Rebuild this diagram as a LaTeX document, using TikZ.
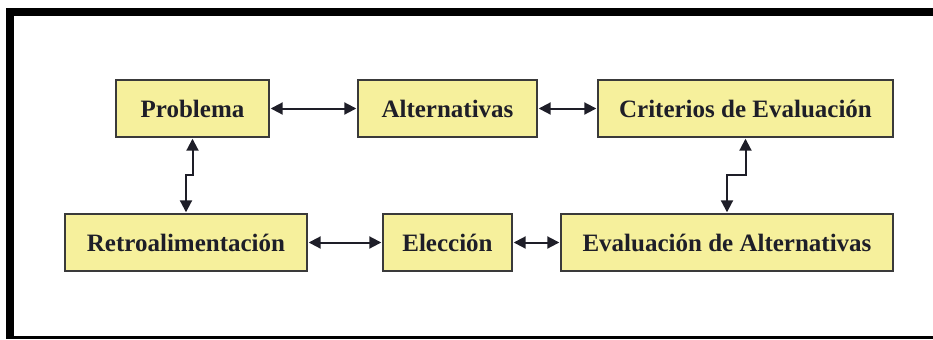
\documentclass[tikz,border=0pt]{standalone}
\usepackage{fontspec}
\setmainfont{Liberation Serif}
\usepackage{tikz}
\usetikzlibrary{arrows.meta}
\usetikzlibrary{positioning}
\definecolor{boxfill}{HTML}{F6F09C}
\definecolor{boxline}{HTML}{3A3A3A}
\definecolor{txt}{HTML}{1E1E28}
\begin{document}
\begin{tikzpicture}[x=0.5pt,y=-0.5pt,
caja/.style={draw=boxline,line width=0.7pt,fill=boxfill,text=txt,
 font=\fontsize{12.5}{14}\selectfont\bfseries,minimum height=28.5pt,inner sep=0pt},
flecha/.style={{Triangle[length=6pt,width=6pt]}-{Triangle[length=6pt,width=6pt]},
 line width=1pt,draw=txt,shorten <=0.5pt,shorten >=0.5pt}]
\useasboundingbox (0,0) rectangle (933,339);
\fill[black] (6,7.5) rectangle (933,16);
\fill[black] (6,7.5) rectangle (14,339);
\fill[black] (6,336) rectangle (933,339);
\node[caja,minimum width=76.5pt] (prob) at (192.5,108.5) {Problema};
\node[caja,minimum width=89.5pt] (alt) at (447.5,108.5) {Alternativas};
\node[caja,minimum width=147.5pt] (crit) at (745.5,108.5) {Criterios de Evaluación};
\node[caja,minimum width=121pt] (retro) at (186,242.5) {Retroalimentación};
\node[caja,minimum width=64.5pt] (elec) at (447.5,242.5) {Elección};
\node[caja,minimum width=166pt] (eval) at (727,242.5) {Evaluación de Alternativas};
\coordinate (j1) at (192.5,175);
\coordinate (j2) at (745.5,175);
\draw[flecha] (prob.east) -- (alt.west);
\draw[flecha] (alt.east) -- (crit.west);
\draw[flecha] (retro.east) -- (elec.west);
\draw[flecha] (elec.east) -- (eval.west);
\draw[flecha] (prob.south) -- (j1) -| (retro.north);
\draw[flecha] (crit.south) -- (j2) -| (eval.north);
\end{tikzpicture}
\end{document}
